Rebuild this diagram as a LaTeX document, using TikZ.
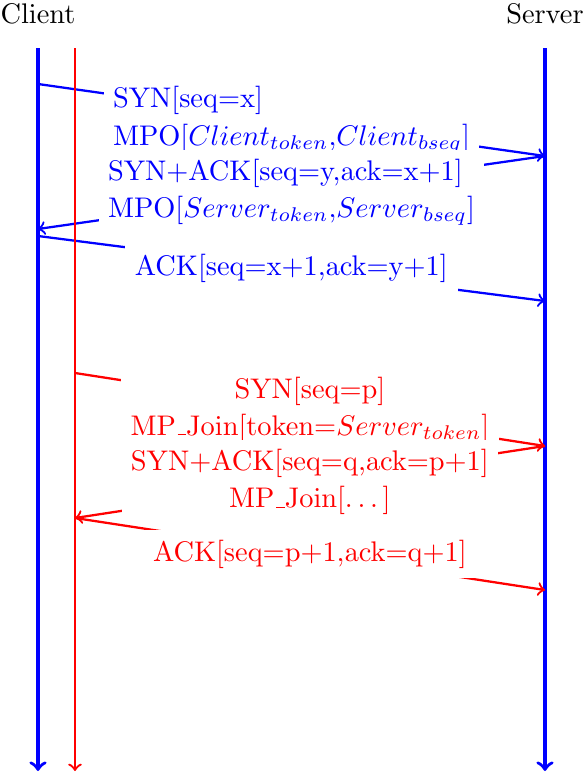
\documentclass[tikz,border=0pt]{standalone}
\usepackage[OT1]{fontenc}
\usepackage{amsmath,amssymb}
\usepackage{tikz}

\begin{document}
\begin{tikzpicture}[x=0.3524pt, y=-0.3524pt,
        msg/.style={fill=white, align=center, font=\fontsize{10pt}{13.1pt}\selectfont},
        msgl/.style={msg, align=left},
        life/.style={very thick, blue, ->},
        sub/.style={thick, red, ->}]
        \useasboundingbox (0,0) rectangle (586,773);
        \node (C) at (38,14) {Client};
        \node (S) at (545,14) {Server};
        \coordinate (C0) at (38,48);
        \coordinate (C9) at (38,771);
        \coordinate (R0) at (75,48);
        \coordinate (R9) at (75,771);
        \coordinate (S0) at (545,48);
        \coordinate (S9) at (545,771);
        \coordinate (C1) at (38,84);
        \coordinate (S1) at (545,156);
        \coordinate (C2) at (38,229);
        \coordinate (C3) at (38,236);
        \coordinate (S3) at (545,301);
        \coordinate (R1) at (75,373);
        \coordinate (S4) at (545,446);
        \coordinate (R2) at (75,518);
        \coordinate (S6) at (545,590);
        \draw[life] (C0) to (C9);
        \draw[life] (S0) to (S9);
        % first subflow
        \draw[thick, blue, ->] (C1) -- node[msgl] {SYN[seq=x]\\MPO[$Client_{token}$,$Client_{bseq}$]} (S1);
        \draw[thick, blue, ->] (S1) -- node[msgl] {SYN+ACK[seq=y,ack=x+1]\\MPO[$Server_{token}$,$Server_{bseq}$]} (C2);
        \draw[thick, blue, ->] (C3) -- node[msg] {ACK[seq=x+1,ack=y+1]} (S3);
        % second subflow
        \draw[sub] (R0) to (R9);
        \draw[sub] (R1) -- node[msg] {SYN[seq=p]\\MP\_Join[token=$Server_{token}$]} (S4);
        \draw[sub] (S4) -- node[msg] {SYN+ACK[seq=q,ack=p+1]\\MP\_Join[\ldots]} (R2);
        \draw[sub] (R2) -- node[msg] {ACK[seq=p+1,ack=q+1]} (S6);
    \end{tikzpicture}
\end{document}
